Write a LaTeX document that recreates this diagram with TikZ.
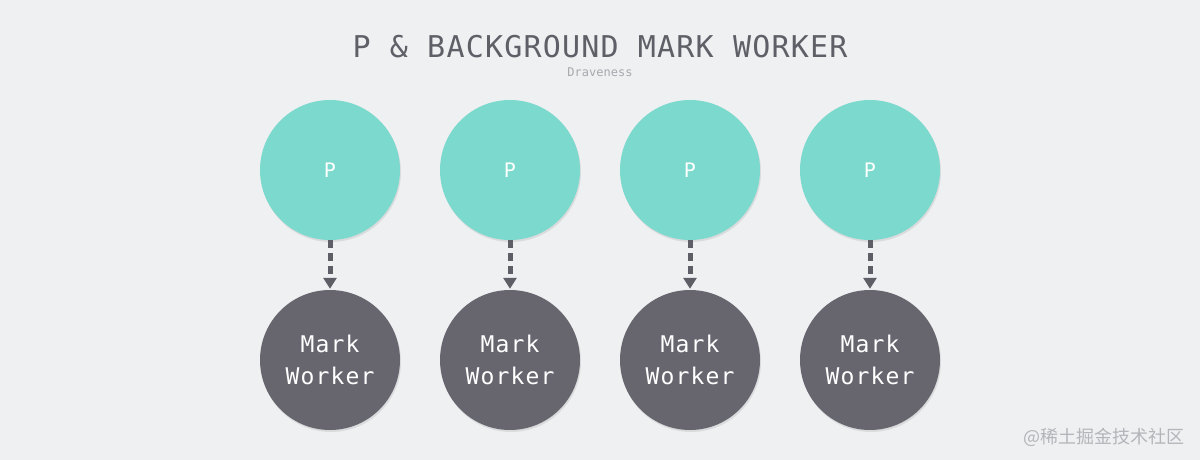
\documentclass[tikz,border=0pt]{standalone}
\usepackage{fontspec}
\setmonofont{DejaVu Sans Mono}
\newfontfamily\titlefont[LetterSpace=4]{DejaVu Sans Mono}
\newfontfamily\labelfont[LetterSpace=5]{DejaVu Sans Mono}
\newfontfamily\cjkfont{Noto Sans CJK SC}
\usetikzlibrary{arrows.meta,shadows}
\definecolor{bgc}{HTML}{EFF0F2}
\definecolor{tealc}{HTML}{7BD9CD}
\definecolor{darkc}{HTML}{67666F}
\definecolor{arrc}{HTML}{5E5E66}
\definecolor{titlec}{HTML}{5F5F67}
\definecolor{subc}{HTML}{A8A8AE}
\definecolor{wmc}{HTML}{B4B4BA}
\tikzset{
  pnode/.style={circle, fill=tealc, minimum size=140pt, inner sep=0pt,
    drop shadow={opacity=0.18, shadow xshift=1pt, shadow yshift=-2pt},
    text=white, font=\labelfont\fontsize{20}{22}\selectfont},
  mwnode/.style={circle, fill=darkc, minimum size=140pt, inner sep=0pt,
    drop shadow={opacity=0.18, shadow xshift=1pt, shadow yshift=-2pt},
    text=white, align=center, font=\labelfont\fontsize{23}{32}\selectfont},
  flow/.style={draw=arrc, line width=5pt, dash pattern=on 8pt off 5pt,
    -{Triangle[width=13pt,length=11pt]}, shorten >=1pt}
}
\begin{document}
\begin{tikzpicture}[x=1pt,y=-1pt]
\fill[bgc] (0,0) rectangle (1200,460);
\useasboundingbox (0,0) rectangle (1200,460);
\node[text=titlec, font=\titlefont\fontsize{30}{32}\selectfont] (title) at (600,47) {P \& BACKGROUND MARK WORKER};
\node[text=subc, font=\ttfamily\fontsize{12}{13}\selectfont] (sub) at (600,72) {Draveness};
\foreach \i/\x in {1/330,2/510,3/690,4/870}{
  \node[pnode] (p\i) at (\x,170) {P};
  \node[mwnode] (m\i) at (\x,360) {Mark\\Worker};
  \draw[flow] (p\i.south) -- (m\i.north);
}
\node[text=wmc, font=\cjkfont\fontsize{18}{20}\selectfont, anchor=east] (wm) at (1188,437) {@稀土掘金技术社区};
\end{tikzpicture}
\end{document}
